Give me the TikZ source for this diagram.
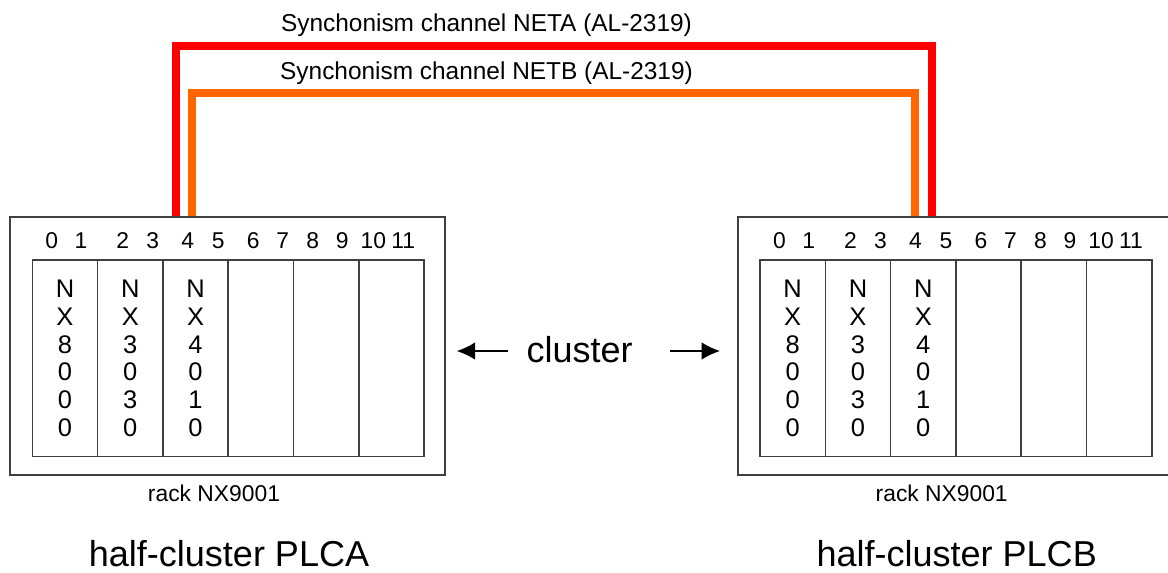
\documentclass[tikz,border=0pt]{standalone}
\usepackage{fontspec}
\setmainfont{Liberation Sans}
\usetikzlibrary{arrows.meta,positioning,calc}
\definecolor{netaRed}{HTML}{FF0000}
\definecolor{netbOrange}{HTML}{FF6600}
\definecolor{rackGray}{HTML}{404040}

\begin{document}
\begin{tikzpicture}[x=0.02cm,y=-0.02cm,
    rack/.style={draw=rackGray,line width=1.1pt,minimum width=8.7cm,
                 minimum height=5.166cm,inner sep=0pt},
    slot/.style={draw=rackGray,line width=0.85pt,minimum width=1.306cm,
                 minimum height=3.934cm,inner sep=0pt,align=center,
                 font=\fontsize{14.5}{15.9}\selectfont},
    slotnum/.style={inner sep=0pt,font=\fontsize{13}{15}\selectfont},
    chan/.style={line width=4.4pt},
    chanlabel/.style={inner sep=0pt,font=\fontsize{13.9}{16}\selectfont},
    biglabel/.style={inner sep=0pt,font=\fontsize{20.5}{24}\selectfont},
    clarrow/.style={line width=0.85pt,-{Latex[length=10.5pt,width=10pt]}}]
  \useasboundingbox (0,0) rectangle (1168,572);

  % the two half-clusters
  \foreach \r/\dx in {A/0,B/727.7}{
    \node[rack] (rack\r) at (227.5+\dx,345.85) {};
    \foreach \i/\modtxt in {1/{N\\X\\8\\0\\0\\0},2/{N\\X\\3\\0\\3\\0},
                            3/{N\\X\\4\\0\\1\\0},4/{},5/{},6/{}}
      \node[slot] (slot\r\i) at (65.3*\i-0.35+\dx,358.35) {\modtxt};
    \foreach \n/\x in {0/51.7,1/81,2/122.7,3/152.7,4/187.7,5/218.3,
                       6/253.3,7/282.7,8/312.7,9/342.3,10/373.3,11/403.3}
      \node[slotnum] (num\r\n) at (\x+\dx,240.7) {\n};
    \node[slotnum] (label\r) at (214+\dx,493) {rack NX9001};
    \node[biglabel] (plc\r) at (229+\dx,554) {half-cluster PLC\r};
  }

  % synchronism channels
  \coordinate (netaTop) at (0,46);
  \coordinate (netbTop) at (0,93.3);
  \coordinate (netaA) at ($(rackA.north west)+(167,0)$);
  \coordinate (netbA) at ($(rackA.north west)+(183,0)$);
  \coordinate (netbB) at ($(rackB.north west)+(178.1,0)$);
  \coordinate (netaB) at ($(rackB.north west)+(195.1,0)$);
  \draw[chan,netaRed] (netaA) -- (netaA |- netaTop) -| (netaB);
  \draw[chan,netbOrange] (netbA) -- (netbA |- netbTop) -| (netbB);
  \node[chanlabel] (netaLabel) at (486.5,25) {Synchonism channel NETA (AL-2319)};
  \node[chanlabel] (netbLabel) at (486.5,73) {Synchonism channel NETB (AL-2319)};

  % cluster
  \node[biglabel] (cluster) at (579.7,350) {cluster};
  \coordinate (clA) at (456.7,351);
  \coordinate (clB) at (720,351);
  \draw[clarrow] ([xshift=-0.36cm,yshift=-0.02cm]cluster.west) -- (clA);
  \draw[clarrow] ([xshift=0.74cm,yshift=-0.02cm]cluster.east) -- (clB);
\end{tikzpicture}
\end{document}
